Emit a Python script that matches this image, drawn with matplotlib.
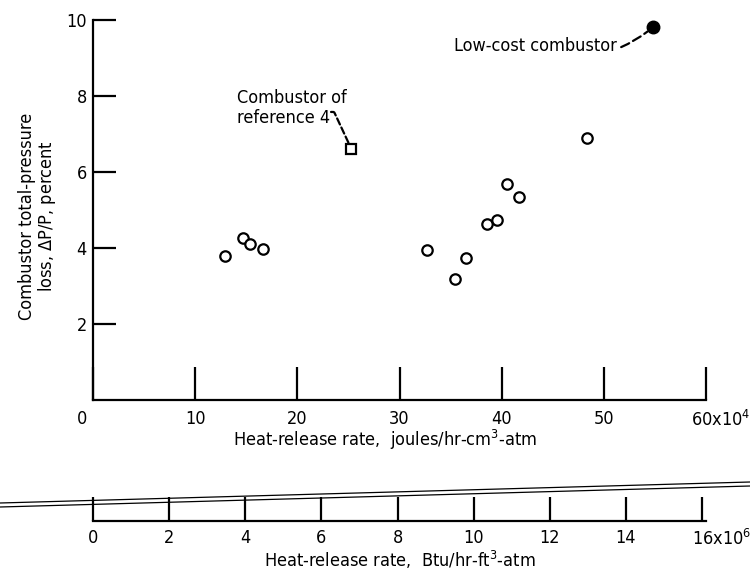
import matplotlib
matplotlib.use("Agg")
import matplotlib.pyplot as plt
from matplotlib import font_manager
from matplotlib.lines import Line2D
from matplotlib.transforms import ScaledTranslation

# ---- data -------------------------------------------------------------
# heat-release rate (x10^4 J/hr-cm^3-atm) and total-pressure loss (percent)
test_rate = [12.9, 14.7, 15.4, 16.6, 32.7, 35.4, 36.5, 38.6, 39.5, 40.5, 41.7, 48.4]
test_loss = [3.79, 4.26, 4.10, 3.97, 3.96, 3.18, 3.75, 4.63, 4.75, 5.68, 5.35, 6.89]

ref4_rate = [25.3]
ref4_loss = [6.60]

lowcost_rate = [54.8]
lowcost_loss = [9.81]

x_ticks = [0, 10, 20, 30, 40, 50, 60]
x_ticklabels = ["0", "10", "20", "30", "40", "50", "60x10$^4$"]
y_ticks = [2, 4, 6, 8, 10]
y_ticklabels = ["2", "4", "6", "8", "10"]
btu_ticks = [0, 2, 4, 6, 8, 10, 12, 14, 16]
btu_ticklabels = ["0", "2", "4", "6", "8", "10", "12", "14", "16x10$^6$"]

# 1 Btu/ft^3 = 0.037259 J/cm^3
J_PER_CM3_PER_BTU_PER_FT3 = 0.037259


def joules_to_btu(j):
    # x10^4 J/hr-cm^3-atm  ->  x10^6 Btu/hr-ft^3-atm
    return j * 1e4 / J_PER_CM3_PER_BTU_PER_FT3 / 1e6


def btu_to_joules(b):
    return b * 1e6 * J_PER_CM3_PER_BTU_PER_FT3 / 1e4


# ---- font -------------------------------------------------------------
names = {f.name for f in font_manager.fontManager.ttflist}
if "Liberation Sans Narrow" in names:
    plt.rcParams["font.family"] = ["Liberation Sans Narrow", "DejaVu Sans"]
else:
    plt.rcParams["font.family"] = ["DejaVu Sans"]
    plt.rcParams["font.stretch"] = "condensed"
plt.rcParams["mathtext.fontset"] = "custom"
plt.rcParams["mathtext.rm"] = plt.rcParams["font.family"][0]
plt.rcParams["mathtext.default"] = "regular"

FS = 13
LW = 1.6

fig = plt.figure(figsize=(7.5, 5.7), dpi=100)
W, H = 750, 570
ax = fig.add_axes([93 / W, 1 - 400 / H, (706 - 93) / W, 380 / H])

ax.plot(test_rate, test_loss, linestyle="none", marker="o", ms=7.5,
        mfc="white", mec="black", mew=1.6, zorder=3)
ax.plot(ref4_rate, ref4_loss, linestyle="none", marker="s", ms=6.5,
        mfc="white", mec="black", mew=1.6, zorder=3)
ax.plot(lowcost_rate, lowcost_loss, linestyle="none", marker="o", ms=9,
        mfc="black", mec="black", zorder=3)

ax.set_xlim(0, 60)
ax.set_ylim(0, 10)
for side in ("top", "right"):
    ax.spines[side].set_visible(False)
for side in ("left", "bottom"):
    ax.spines[side].set_linewidth(LW)

ax.set_xticks(x_ticks, labels=x_ticklabels)
ax.set_yticks(y_ticks, labels=y_ticklabels)
ax.tick_params(axis="x", direction="in", length=24, width=LW, pad=7, labelsize=FS)
ax.tick_params(axis="y", direction="in", length=16.5, width=LW, pad=4.5, labelsize=FS)

# first x label sits left of the corner; last one trails its multiplier
xl = ax.get_xticklabels()
xl[0].set_transform(xl[0].get_transform() + ScaledTranslation(-11 / 100, 0, fig.dpi_scale_trans))
xl[-1].set_horizontalalignment("left")
xl[-1].set_transform(xl[-1].get_transform() + ScaledTranslation(-15 / 100, 0, fig.dpi_scale_trans))

ax.set_xlabel("Heat-release rate,  joules/hr-cm$^3$-atm", fontsize=FS)
ax.xaxis.set_label_coords((385 - 93) / 613, -(428 - 400) / 380)

ax.set_ylabel("Combustor total-pressure\nloss, $\\Delta$P/P, percent", fontsize=FS,
              linespacing=1.0)
ax.yaxis.set_label_coords(-(93 - 58) / 613, 0.5 - (216 - 210) / 380)

# second scale in British units
secax = ax.secondary_xaxis(-(521 - 400) / 380, functions=(joules_to_btu, btu_to_joules))
secax.set_xticks(btu_ticks, labels=btu_ticklabels)
secax.tick_params(axis="x", direction="in", length=17, width=LW, pad=6, labelsize=FS)
secax.spines["bottom"].set_linewidth(LW)
bl = secax.get_xticklabels()
bl[-1].set_horizontalalignment("left")
bl[-1].set_transform(bl[-1].get_transform() + ScaledTranslation(-10 / 100, 0, fig.dpi_scale_trans))
secax.set_xlabel("Heat-release rate,  Btu/hr-ft$^3$-atm", fontsize=FS)
secax.xaxis.set_label_coords((400 - 93) / 613, -(549 - 400) / 380, transform=ax.transAxes)

# callouts
ax.annotate("Low-cost combustor", xy=(lowcost_rate[0], lowcost_loss[0]),
            xytext=(51.3, 9.32), ha="right", va="center", fontsize=FS,
            arrowprops=dict(arrowstyle="-", color="black", lw=1.6, linestyle=(0, (4, 2)),
                            connectionstyle="arc3,rad=0.3", shrinkA=1, shrinkB=5))

ax.text(14.1, 7.68, "Combustor of\nreference 4", ha="left", va="center",
        fontsize=FS, linespacing=1.1)
ax.annotate("", xy=(ref4_rate[0], ref4_loss[0]), xytext=(23.3, 7.58),
            arrowprops=dict(arrowstyle="-", color="black", lw=1.6, linestyle=(0, (3, 1.5)),
                            connectionstyle="angle,angleA=0,angleB=115,rad=1",
                            shrinkA=0, shrinkB=5))

# double rule crossing the lower scale
for y0, y1 in ((503, 482), (507, 486)):
    fig.add_artist(Line2D([0, 1], [1 - y0 / H, 1 - y1 / H], transform=fig.transFigure,
                          color="black", lw=0.9))

fig.savefig("out.png", dpi=100, facecolor="white")
